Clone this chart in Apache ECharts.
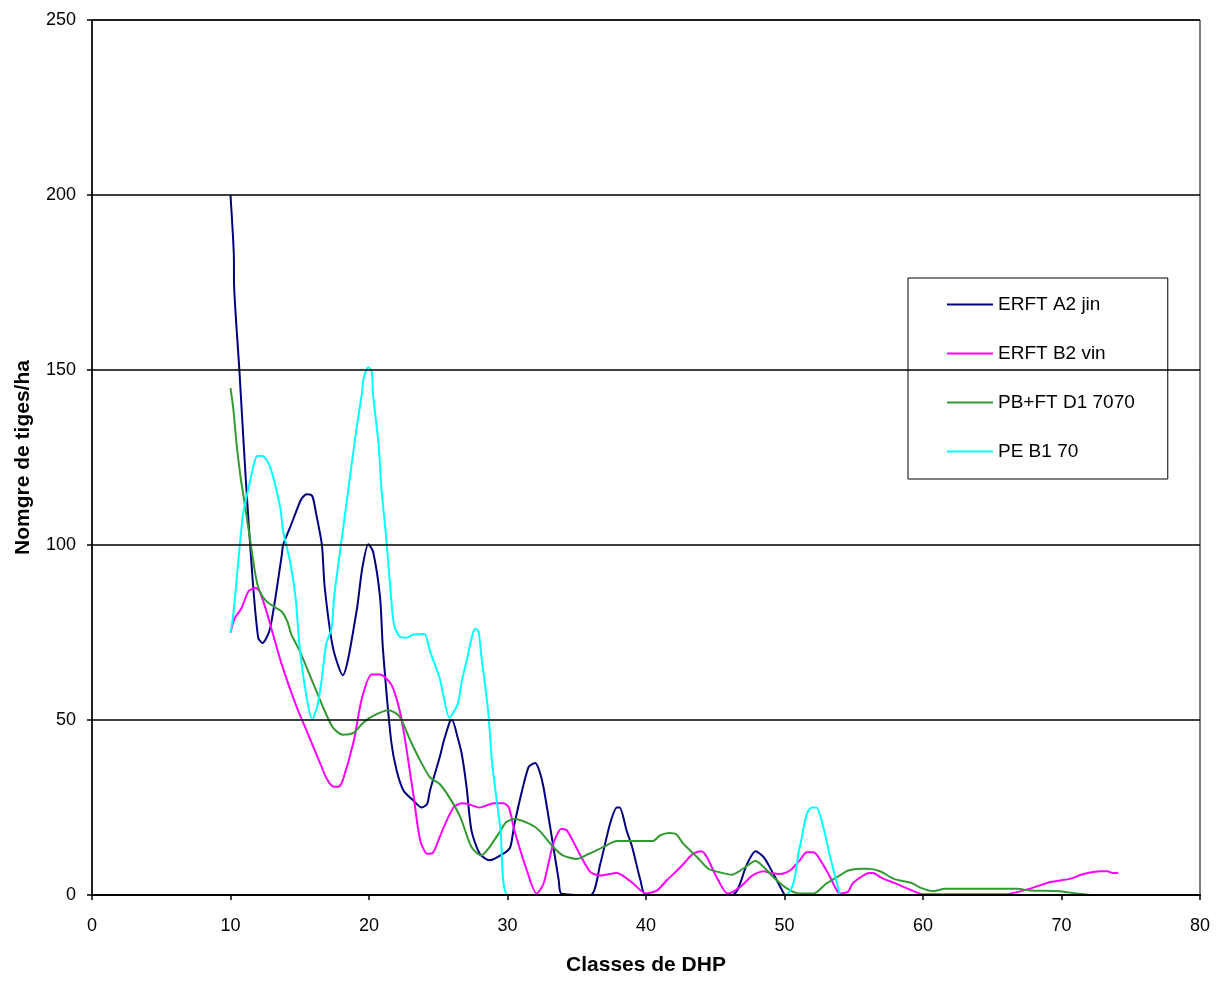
<!DOCTYPE html>
<html>
<head>
<meta charset="utf-8">
<script src="https://cdn.jsdelivr.net/npm/echarts@6/dist/echarts.min.js"></script>
<style>
html,body{margin:0;padding:0;background:#fff;}
#chart{width:1217px;height:981px;}
</style>
</head>
<body>
<div id="chart"></div>
<script>
// Tick labels / axis extents
var xTicks = [0, 10, 20, 30, 40, 50, 60, 70, 80];
var yTicks = [0, 50, 100, 150, 200, 250];

var seriesNames = ['ERFT A2 jin', 'ERFT B2 vin', 'PB+FT D1 7070', 'PE B1 70'];

// ERFT A2 jin
var erftA2X = [10,10.24,10.26,10.64,11.1,11.6,12,12.3,12.85,13.7,13.8,14.4,15.1,15.5,15.9,16.2,16.6,16.8,17.4,18.1,19.1,19.5,19.95,20.3,20.8,21,21.6,22,22.5,23.2,23.8,24.2,24.4,25.1,25.4,25.85,26,26.4,26.7,27.05,27.4,28,28.7,29.7,30.2,30.5,31.5,32,32.3,32.6,33.2,33.7,33.9,36,36.7,37.4,37.9,38.1,38.6,39,39.6,40,46.2,47.3,47.9,48.5,49.2,50];
var erftA2Y = [200,183,174,150,119,90,73.5,72,76,97,100,106,113,114.5,114,108.6,100,88,70.6,62.8,81,93,100.2,98,85,70.6,44,35.5,29.8,27,25,26,29.8,39.3,44,49.7,50,45,40.2,30.7,18.4,11.8,9.9,11.8,13.7,20.3,36.4,37.7,35.5,30.8,16.5,4.2,0.4,0,8.9,20.3,25,25,18.4,13.7,4.2,0,0,8.9,12.5,10.8,6,0];

// ERFT B2 vin
var erftB2X = [10,10.3,10.8,11.3,11.8,12.1,12.6,13.7,14.8,15.5,16,16.5,16.9,17.4,17.8,18.1,18.9,19.5,20.2,20.8,21.6,22.1,22.5,23.2,23.7,24.2,24.6,25.1,25.4,26.1,26.7,27.3,28,29,29.7,30.1,30.5,31.4,32.1,32.6,33.3,33.9,34.3,35.2,36,36.7,37.9,38.3,39.1,40,40.8,41.5,42.5,43.4,44,44.4,45.1,45.9,46.8,47.7,48.5,49,49.7,50.4,51.1,51.6,52.1,52.6,53.3,54,54.6,54.9,55.5,56.1,56.4,57,58.1,59.2,60,65.9,67.7,69.2,70.6,71.6,72.8,73.3,73.7,74.1];
var erftB2Y = [75,79,82,86.8,87.7,86.8,81,65.9,53.5,46.9,42.1,37.4,33.6,31,30.9,32.7,44,56.4,63,63,60.2,54.5,46.9,28.8,15.6,11.8,12,16.5,19.4,25,26.2,25.8,25,26.2,26.2,25,18.4,7,0.4,3.2,14.6,18.9,18.4,11.8,6.5,5.6,6.3,5.6,3.2,0.4,1.3,4.2,8,11.8,12.5,10.8,5.1,0.4,2.3,5.6,6.8,6.3,6,7,9.9,12.2,12.2,9.9,5.1,0.4,1,3.2,5.1,6.3,6.3,4.9,3.2,1.3,0.2,0.2,1.8,3.7,4.6,6,6.8,6.8,6.3,6.3];

// PB+FT D1 7070
var pbftX = [10,10.2,10.45,10.74,10.9,11.4,11.8,12.1,12.6,13.3,13.7,14.1,14.4,15,16,16.7,17.4,18.1,18.9,19.6,20.3,21.4,22.2,23,23.7,24.4,25.1,25.8,26.6,27.4,28.1,28.7,29.5,29.9,30.5,31.6,32.3,33.3,34,35,35.9,36.9,37.9,40.5,41,41.7,42.2,42.7,43.7,44.5,45.3,46.2,47,47.9,48.5,49.2,50.2,51.1,52.1,53,54,54.6,55.5,56,56.9,57.9,59.2,59.8,60.7,61.6,66.8,67.7,69.9,71.1,72.1];
var pbftY = [144.8,139,128.5,119,115,102,91.5,86.8,83.9,82,81,78.2,74.4,69.7,60.2,53.5,47.8,45.8,46.4,49.3,51.2,52.8,51,44,38.4,33.6,31.7,27.9,22.2,13.7,11.3,13.7,18.4,20.8,21.7,20.3,18.4,13.7,11.3,10.3,11.8,13.7,15.4,15.4,17,17.7,17.3,14.6,10.8,7.5,6.5,5.8,7.5,9.7,8,5.1,1.8,0.4,0.4,3.2,5.6,7,7.5,7.5,6.8,4.6,3.4,2.1,1.1,1.8,1.8,1.3,1.1,0.4,0];

// PE B1 70
var peB1X = [10,10.2,10.9,11.4,11.8,12,12.4,12.9,13.6,13.8,14.3,14.7,15,15.5,15.9,16.3,16.6,16.9,17.3,17.5,18.1,18.9,19.1,19.5,19.6,19.95,20.2,20.3,20.7,20.9,21.2,21.5,21.8,22.2,22.7,23.2,24,24.4,25.1,25.4,25.8,26.4,26.7,27.1,27.3,27.65,27.9,28.1,28.6,28.9,29.5,30.05,50,51.1,51.6,51.96,52.3,52.8,53.3,54];
var peB1Y = [74.9,80,108.6,118,124.7,125.5,125.3,121.9,110.5,104,95.3,84.9,70.6,56.4,50.2,54.5,62,71.6,76.3,85.8,103.8,127.6,133.3,143.7,147.5,150.8,149.4,142.7,128.5,116,103.8,89.6,77.3,73.9,73.5,74.4,74.6,69.7,62,56.4,50.7,54.5,61.1,67.8,71.6,76.1,75.4,68.7,52.6,37.4,18.4,0,0,13.7,23.1,25,25,19.4,10.8,0];

var colors = ['#000080', '#FF00FF', '#339933', '#00FFFF'];

function zip(xs, ys) {
  return xs.map(function (x, i) { return [x, ys[i]]; });
}
var allX = [erftA2X, erftB2X, pbftX, peB1X];
var allY = [erftA2Y, erftB2Y, pbftY, peB1Y];

var FONT = '"Liberation Sans", Arial, sans-serif';

var chart = echarts.init(document.getElementById('chart'), null, {renderer: 'canvas'});
var option = {
  backgroundColor: '#ffffff',
  animation: false,
  textStyle: {fontFamily: FONT},
  grid: {
    left: 92, right: 17, top: 20, bottom: 83,
    show: true, borderColor: '#000', borderWidth: 1, backgroundColor: 'transparent'
  },
  legend: {
    orient: 'vertical',
    left: 908, top: 278,
    padding: [17, 33, 18, 39],
    itemGap: 30,
    itemWidth: 46,
    itemHeight: 2,
    icon: 'rect',
    borderColor: '#000',
    borderWidth: 1,
    backgroundColor: '#fff',
    textStyle: {fontFamily: FONT, fontSize: 19, color: '#000'},
    data: seriesNames
  },
  xAxis: {
    type: 'value',
    min: xTicks[0], max: xTicks[xTicks.length - 1], interval: 10,
    z: 10,
    name: 'Classes de DHP',
    nameLocation: 'middle',
    nameGap: 60,
    nameTextStyle: {fontFamily: FONT, fontSize: 21, fontWeight: 'bold', color: '#000'},
    axisLine: {show: true, onZero: false, lineStyle: {color: '#000', width: 2}},
    axisTick: {show: true, length: 5, lineStyle: {color: '#000', width: 1.5}},
    axisLabel: {margin: 22, fontSize: 18, color: '#000', fontFamily: FONT},
    splitLine: {show: false}
  },
  yAxis: {
    type: 'value',
    min: yTicks[0], max: yTicks[yTicks.length - 1], interval: 50,
    z: 10,
    name: 'Nomgre de tiges/ha',
    nameLocation: 'middle',
    nameRotate: 90,
    nameGap: 58,
    nameTextStyle: {fontFamily: FONT, fontSize: 21, fontWeight: 'bold', color: '#000'},
    axisLine: {show: true, onZero: false, lineStyle: {color: '#000', width: 1.5}},
    axisTick: {show: true, length: 5, lineStyle: {color: '#000', width: 1.5}},
    axisLabel: {margin: 16, fontSize: 18, color: '#000', fontFamily: FONT},
    splitLine: {show: true, lineStyle: {color: '#000', width: 1.5}}
  },
  series: seriesNames.map(function (name, i) {
    return {
      name: name,
      type: 'line',
      data: zip(allX[i], allY[i]),
      symbol: 'none',
      showSymbol: false,
      smooth: 0.25,
      z: 2,
      color: colors[i],
      lineStyle: {color: colors[i], width: 2}
    };
  })
};
chart.setOption(option);
</script>
</body>
</html>
